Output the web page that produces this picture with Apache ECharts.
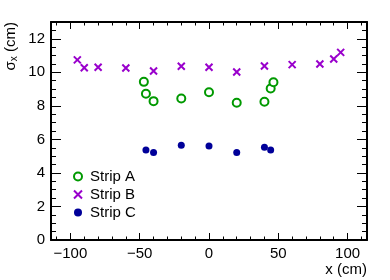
<!DOCTYPE html>
<html>
<head>
<meta charset="utf-8">
<script src="https://cdn.jsdelivr.net/npm/echarts@6/dist/echarts.min.js"></script>
<style>
html,body{margin:0;padding:0;background:#fff;}
#c{width:390px;height:280px;}
</style>
</head>
<body>
<div id="c"></div>
<script>
// Data
var stripA_x = [-47, -45.5, -40, -20, 0, 20, 40, 44.5, 46.5];
var stripA_y = [9.43, 8.72, 8.28, 8.44, 8.81, 8.18, 8.24, 9.03, 9.41];
var stripB_x = [-95, -90, -80, -60, -40, -20, 0, 20, 40, 60, 80, 90, 95];
var stripB_y = [10.74, 10.27, 10.30, 10.26, 10.08, 10.36, 10.30, 10.02, 10.38, 10.46, 10.50, 10.79, 11.19];
var stripC_x = [-45.5, -40, -20, 0, 20, 40, 44.5];
var stripC_y = [5.37, 5.22, 5.65, 5.61, 5.22, 5.53, 5.37];
var xMajorTicks = [-100, -50, 0, 50, 100];
var xMinorTicks = [-110, -100, -90, -80, -70, -60, -50, -40, -30, -20, -10, 0, 10, 20, 30, 40, 50, 60, 70, 80, 90, 100, 110];
var yMajorTicks = [0, 2, 4, 6, 8, 10, 12];
var yMinorTicks = [0, 0.5, 1, 1.5, 2, 2.5, 3, 3.5, 4, 4.5, 5, 5.5, 6, 6.5, 7, 7.5, 8, 8.5, 9, 9.5, 10, 10.5, 11, 11.5, 12, 12.5, 13];

function pairs(xs, ys) { return xs.map(function (x, i) { return [x, ys[i]]; }); }

var FONT = 'Liberation Sans, Arial, Helvetica, sans-serif';
var X_MIN = -114, X_MAX = 114, Y_MIN = 0, Y_MAX = 13;

function xAx(pos, major, showLabel, showLine) {
  return {
    type: 'value', position: pos, min: X_MIN, max: X_MAX,
    axisLine: { show: showLine, onZero: false, lineStyle: { color: '#000', width: 2 } },
    axisTick: { show: true, inside: true, length: major ? 7 : 3.5, customValues: major ? xMajorTicks : xMinorTicks, lineStyle: { color: '#000', width: 1 } },
    axisLabel: { show: showLabel, customValues: xMajorTicks, color: '#000', fontSize: 15, fontFamily: FONT, margin: 6,
      formatter: function (v) { return v < 0 ? '\u2212' + (-v) : String(v); } },
    splitLine: { show: false }
  };
}
function yAx(pos, major, showLabel, showLine) {
  return {
    type: 'value', position: pos, min: Y_MIN, max: Y_MAX,
    axisLine: { show: showLine, onZero: false, lineStyle: { color: '#000', width: 2 } },
    axisTick: { show: true, inside: true, length: major ? 10 : 5, customValues: major ? yMajorTicks : yMinorTicks, lineStyle: { color: '#000', width: 1 } },
    axisLabel: { show: showLabel, customValues: yMajorTicks, color: '#000', fontSize: 15, fontFamily: FONT, margin: 6 },
    splitLine: { show: false }
  };
}

var chart = echarts.init(document.getElementById('c'), null, { renderer: 'canvas' });
chart.setOption({
  animation: false,
  backgroundColor: '#fff',
  grid: { left: 51, right: 23, top: 22, bottom: 40, containLabel: false },
  xAxis: [xAx('bottom', true, true, true), xAx('bottom', false, false, false), xAx('top', true, false, true), xAx('top', false, false, false)],
  yAxis: [yAx('left', true, true, true), yAx('left', false, false, false), yAx('right', true, false, true), yAx('right', false, false, false)],
  legend: {
    orient: 'vertical', left: 68, top: 164, itemGap: 3, itemWidth: 8, itemHeight: 8,
    textStyle: { fontSize: 15, fontFamily: FONT, color: '#000', padding: [0, 0, 0, 3] },
    data: ['Strip A', 'Strip B', 'Strip C']
  },
  graphic: [
    { type: 'text', x: 11, y: 22, rotation: Math.PI / 2,
      style: { text: '{a|\u03c3}{s|x}{a| (cm)}', align: 'right', verticalAlign: 'middle',
        rich: { a: { fontSize: 15, fontFamily: FONT, fill: '#000', lineHeight: 16 },
                s: { fontSize: 10, fontFamily: FONT, fill: '#000', padding: [7, 0, 0, 0], lineHeight: 16 } } } },
    { type: 'text', x: 367, y: 270,
      style: { text: 'x (cm)', align: 'right', verticalAlign: 'middle', fontSize: 15, fontFamily: FONT, fill: '#000' } }
  ],
  series: [
    { name: 'Strip A', type: 'scatter', data: pairs(stripA_x, stripA_y), symbol: 'emptyCircle', symbolSize: 8,
      itemStyle: { color: '#009900', borderColor: '#009900', borderWidth: 2, opacity: 1 } },
    { name: 'Strip B', type: 'scatter', data: pairs(stripB_x, stripB_y), symbol: 'path://M0,0L10,10M10,0L0,10', symbolSize: 7,
      itemStyle: { color: 'rgba(0,0,0,0)', borderColor: '#9900cc', borderWidth: 2, opacity: 1 } },
    { name: 'Strip C', type: 'scatter', data: pairs(stripC_x, stripC_y), symbol: 'circle', symbolSize: 7,
      itemStyle: { color: '#000099', opacity: 1 } }
  ]
});
</script>
</body>
</html>
